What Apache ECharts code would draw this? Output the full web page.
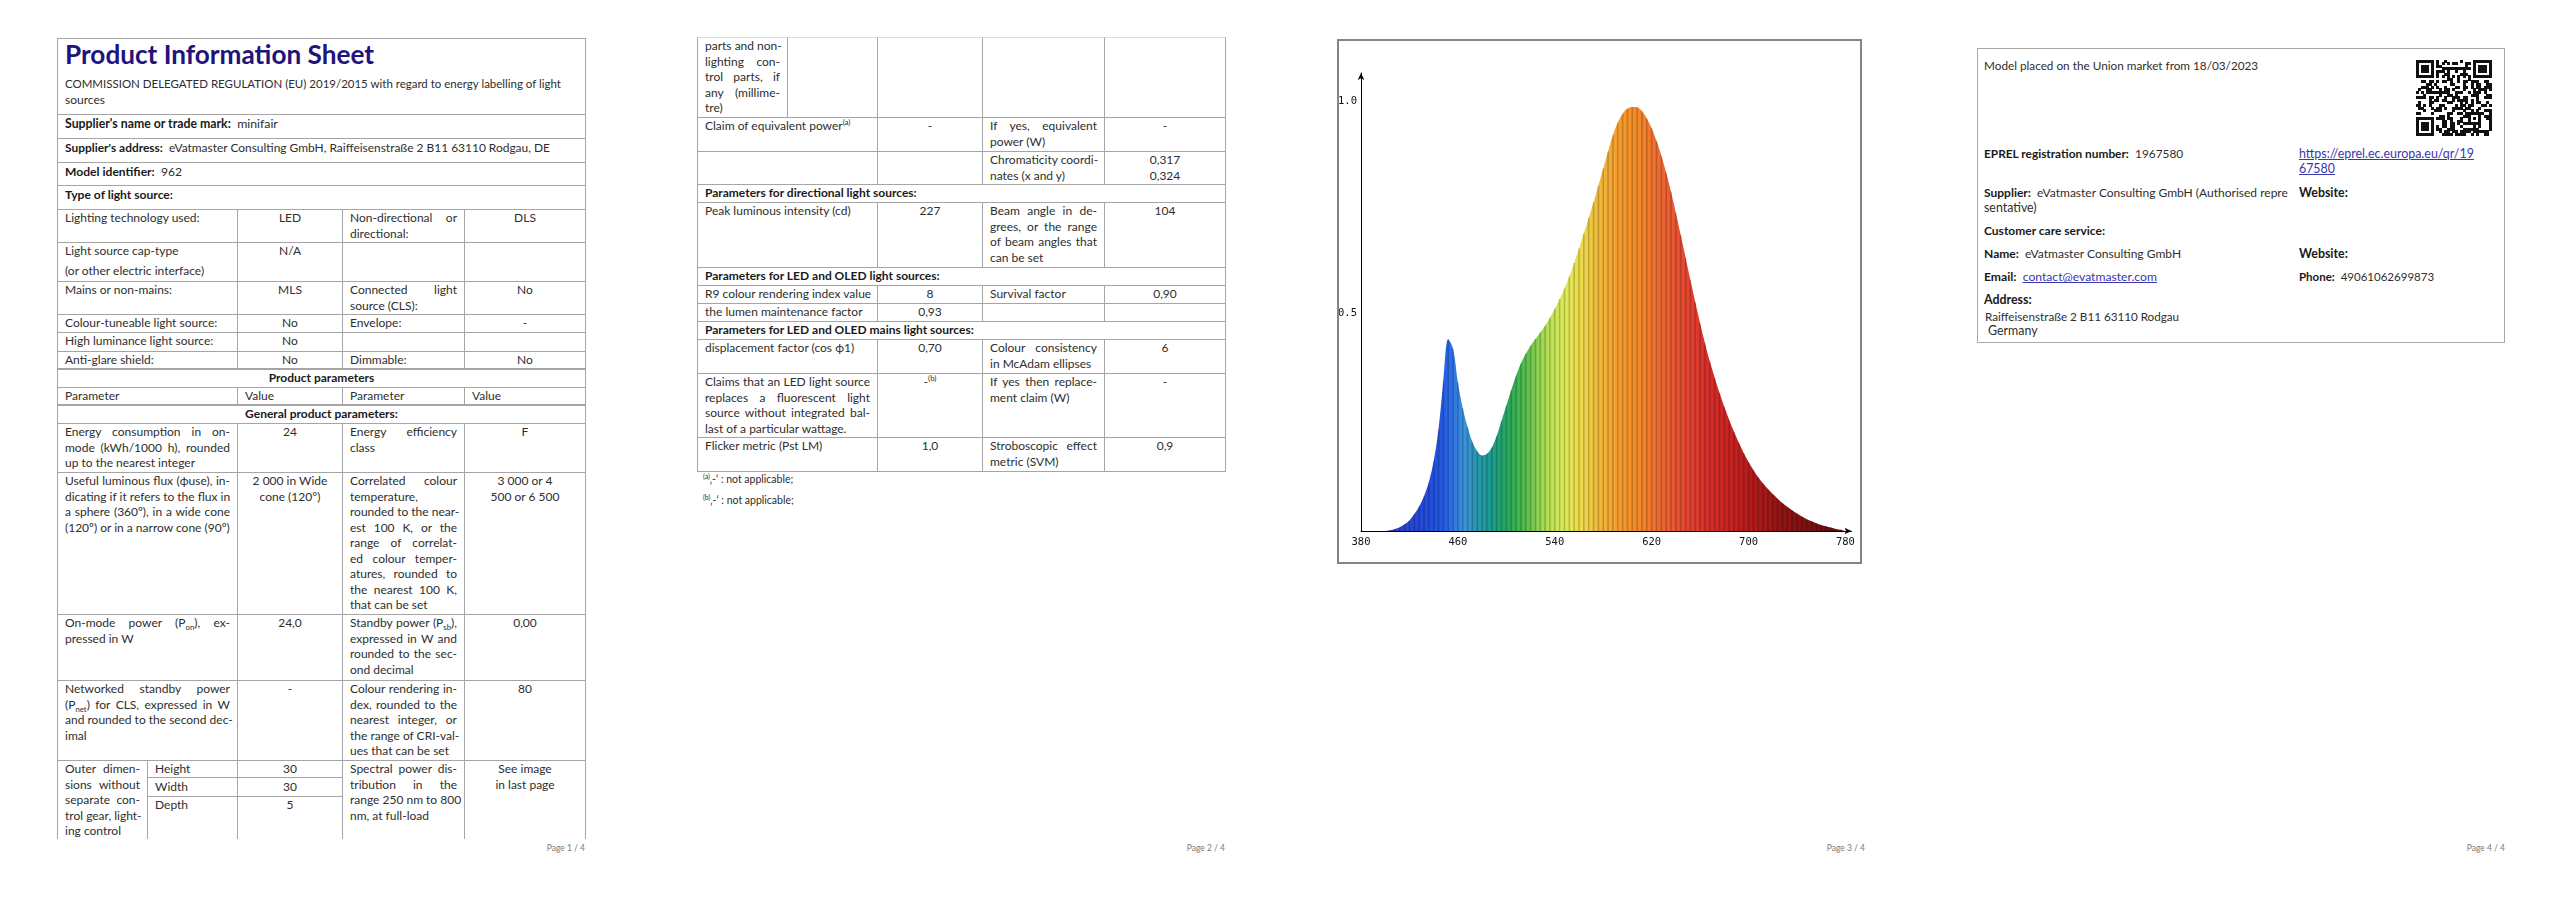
<!DOCTYPE html>
<html><head><meta charset="utf-8">
<script src="https://cdn.jsdelivr.net/npm/echarts@6.0.0/dist/echarts.min.js"></script>
<style>
html,body{margin:0;padding:0;background:#fff;}
#root{position:relative;width:2560px;height:905px;overflow:hidden;font-family:Lato,"Open Sans",sans-serif;color:#2e2e2e;font-size:12px;}
.c{position:absolute;box-sizing:border-box;border:1px solid #a5a5a5;padding:0 7px;line-height:15.5px;overflow:hidden;white-space:nowrap;}
.j{text-align:justify;text-align-last:justify;}
.ctr{text-align:center;}
b{font-weight:700;color:#1a1a1a;}
.foot{position:absolute;font-size:8.5px;color:#7a7a7a;width:200px;text-align:right;line-height:12px;}
.ln{position:absolute;background:#a5a5a5;}
.t{position:absolute;line-height:16px;white-space:nowrap;font-size:12.4px;}
.fit{display:inline-block;white-space:nowrap;}
a{color:#3a36b0;text-decoration:underline;}
sub,sup{font-size:65%;line-height:0;}
#chart{position:absolute;left:1337px;top:39px;width:525px;height:525px;}
#frame{position:absolute;left:1337px;top:39px;width:525px;height:525px;box-sizing:border-box;border:2px solid #858585;pointer-events:none;}
</style></head>
<body><div id="root"><div id="chart"></div><div id="frame"></div></div>
<script>
// ---------------- chart data ----------------
const wavelengths = [380,384,388,392,396,400,404,408,412,416,420,424,428,432,436,440,444,448,452,456,460,464,468,472,476,480,484,488,492,496,500,504,508,512,516,520,524,528,532,536,540,544,548,552,556,560,564,568,572,576,580,584,588,592,596,600,604,608,612,616,620,624,628,632,636,640,644,648,652,656,660,664,668,672,676,680,684,688,692,696,700,704,708,712,716,720,724,728,732,736,740,744,748,752,756,760,764,768,772,776,780];
const relativePower = [0,0,0,0,0,0,0.002,0.005,0.009,0.016,0.025,0.04,0.058,0.082,0.115,0.165,0.24,0.355,0.452,0.43,0.35,0.29,0.245,0.21,0.188,0.178,0.182,0.197,0.224,0.26,0.296,0.332,0.366,0.395,0.418,0.437,0.453,0.468,0.484,0.503,0.524,0.547,0.572,0.6,0.632,0.666,0.702,0.738,0.775,0.815,0.855,0.895,0.933,0.963,0.984,0.996,1.0,0.999,0.99,0.973,0.95,0.92,0.885,0.845,0.8,0.75,0.698,0.645,0.592,0.54,0.49,0.443,0.4,0.362,0.326,0.293,0.262,0.234,0.208,0.184,0.163,0.144,0.127,0.112,0.099,0.087,0.076,0.066,0.057,0.049,0.041,0.034,0.028,0.023,0.018,0.014,0.011,0.008,0.005,0.003,0.001];
const xTickLabels = [380,460,540,620,700,780];
const yTickValues = [0.5,1.0];
const yTickLabels = ['0.5','1.0'];
const spectrumWl = [380,410,430,445,455,465,475,485,495,505,515,525,535,545,555,565,575,590,605,620,635,650,665,685,705,730,760,780];
const spectrumColor = ['#3a2c9c','#2f40c8','#2548da','#2156e2','#2d70e6','#3c92dc','#2a98b2','#1f9a96','#22a274','#30ac55','#52bc4c','#88d050','#b8e050','#d6ea5a','#e8e450','#eed448','#f0bc3c','#f4a230','#f48e26','#f07630','#ea5c32','#e24630','#d8302a','#c82222','#b01a1a','#8e1414','#6e1010','#5a0c0c'];

// ---------------- document pages ----------------
const root = document.getElementById('root');
function fitEl(el, target) {
  const w = el.getBoundingClientRect().width;
  if (!w) return;
  const fs = parseFloat(getComputedStyle(el).fontSize);
  let nf = fs * target / w;
  nf = Math.max(fs * 0.85, Math.min(fs * 1.18, nf));
  el.style.fontSize = nf.toFixed(2) + 'px';
}
function cell(pg, x0, y0, x1, y1, lines, o) {
  o = o || {};
  const d = document.createElement('div');
  d.className = 'c';
  d.style.left = (pg*640 + x0) + 'px';
  d.style.top = y0 + 'px';
  d.style.width = (x1 - x0 + 1) + 'px';
  d.style.height = (y1 - y0 + 1) + 'px';
  if (o.noBottom) d.style.borderBottom = 'none';
  if (o.topColor) d.style.borderTopColor = o.topColor;
  if (o.pt) d.style.paddingTop = o.pt + 'px';
  lines = Array.isArray(lines) ? lines : [lines];
  lines.forEach((t, i) => {
    const l = document.createElement('div');
    if (o.align === 'center') l.className = 'ctr';
    else if (i < lines.length - 1 && !o.nojust) l.className = 'j';
    if (o.gap && i > 0) l.style.marginTop = o.gap + 'px';
    if (o.bold) { l.style.fontWeight = '700'; l.style.color = '#1a1a1a'; }
    l.innerHTML = o.fit ? '<span class="fit">' + t + '</span>' : t;
    d.appendChild(l);
  });
  root.appendChild(d);
  if (o.fit) fitEl(d.querySelector('.fit'), o.fit);
  return d;
}
function hline(pg, x0, x1, y, h) {
  const d = document.createElement('div'); d.className = 'ln';
  d.style.left = (pg*640 + x0) + 'px'; d.style.width = (x1 - x0 + 1) + 'px';
  d.style.top = y + 'px'; d.style.height = h + 'px';
  root.appendChild(d);
}
function text(x, y, html, target, style) {
  const d = document.createElement('div'); d.className = 't';
  d.style.left = x + 'px'; d.style.top = (y - 8) + 'px';
  if (style) d.style.cssText += style;
  d.innerHTML = html; root.appendChild(d);
  if (target) fitEl(d, target);
  return d;
}
function foot(pg, label) {
  const d = document.createElement('div'); d.className = 'foot';
  d.style.left = (pg*640 + 585 - 200) + 'px'; d.style.top = '842px';
  d.textContent = label; root.appendChild(d);
}
const A = 57, S = 147, B = 237, C = 342, D = 464, E = 585;

// Page 1
const t0 = cell(0, A, 38, E, 114, []);
t0.innerHTML = '<div style="font-size:25px;font-weight:700;color:#22137c;line-height:30px;"><span class="fit" id="ttl">Product Information Sheet</span></div>' +
  '<div style="margin-top:7px;line-height:16px;"><span class="fit" id="sub1">COMMISSION DELEGATED REGULATION (EU) 2019/2015 with regard to energy labelling of light</span></div>' +
  '<div style="line-height:16px;">sources</div>';
fitEl(document.getElementById('ttl'), 309);
fitEl(document.getElementById('sub1'), 496);
cell(0, A, 114, E, 138, "<b>Supplier's name or trade mark:</b>&nbsp; minifair", {pt:1, fit:213});
cell(0, A, 138, E, 162, "<b>Supplier's address:</b>&nbsp; eVatmaster Consulting GmbH, Raiffeisenstraße 2 B11 63110 Rodgau, DE", {pt:1, fit:485});
cell(0, A, 162, E, 185, "<b>Model identifier:</b>&nbsp; 962", {pt:1, fit:117});
cell(0, A, 185, E, 209, "<b>Type of light source:</b>", {pt:1, fit:108});
function row4(pg, y0, y1, a, b, c, d, o) {
  o = o || {};
  cell(pg, A, y0, B, y1, a, o.a);
  cell(pg, B, y0, C, y1, b, Object.assign({align:'center'}, o.b));
  cell(pg, C, y0, D, y1, c, o.c);
  cell(pg, D, y0, E, y1, d, Object.assign({align:'center'}, o.d));
}
row4(0, 209, 242, 'Lighting technology used:', 'LED', ['Non-directional or', 'directional:'], 'DLS');
row4(0, 242, 281, ['Light source cap-type', '(or other electric interface)'], 'N/A', '', '', {a:{gap:4.5, nojust:true}});
row4(0, 281, 314, 'Mains or non-mains:', 'MLS', ['Connected light', 'source (CLS):'], 'No');
row4(0, 314, 332, 'Colour-tuneable light source:', 'No', 'Envelope:', '-');
row4(0, 332, 351, 'High luminance light source:', 'No', '', '');
row4(0, 351, 369, 'Anti-glare shield:', 'No', 'Dimmable:', 'No');
cell(0, A, 369, E, 387, 'Product parameters', {align:'center', bold:true});
row4(0, 387, 405, 'Parameter', 'Value', 'Parameter', 'Value', {b:{align:'left'}, d:{align:'left'}});
cell(0, A, 405, E, 423, 'General product parameters:', {align:'center', bold:true});
row4(0, 423, 472, ['Energy consumption in on-', 'mode (kWh/1000 h), rounded', 'up to the nearest integer'], '24', ['Energy efficiency', 'class'], 'F');
row4(0, 472, 614, ['Useful luminous flux (ϕuse), in-', 'dicating if it refers to the flux in', 'a sphere (360º), in a wide cone', '(120º) or in a narrow cone (90º)'],
  ['2 000 in Wide', 'cone (120°)'],
  ['Correlated colour', 'temperature,', 'rounded to the near-', 'est 100 K, or the', 'range of correlat-', 'ed colour temper-', 'atures, rounded to', 'the nearest 100 K,', 'that can be set'],
  ['3 000 or 4', '500 or 6 500']);
row4(0, 614, 680, ['On-mode power (P<sub>on</sub>), ex-', 'pressed in W'], '24,0', ['Standby power (P<sub>sb</sub>),', 'expressed in W and', 'rounded to the sec-', 'ond decimal'], '0,00');
row4(0, 680, 760, ['Networked standby power', '(P<sub>net</sub>) for CLS, expressed in W', 'and rounded to the second dec-', 'imal'], '-', ['Colour rendering in-', 'dex, rounded to the', 'nearest integer, or', 'the range of CRI-val-', 'ues that can be set'], '80');
cell(0, A, 760, S, 838, ['Outer dimen-', 'sions without', 'separate con-', 'trol gear, light-', 'ing control'], {noBottom:true});
cell(0, S, 760, B, 777, 'Height'); cell(0, B, 760, C, 777, '30', {align:'center'});
cell(0, S, 777, B, 796, 'Width', {pt:1}); cell(0, B, 777, C, 796, '30', {align:'center', pt:1});
cell(0, S, 796, B, 838, 'Depth', {noBottom:true}); cell(0, B, 796, C, 838, '5', {align:'center', noBottom:true});
cell(0, C, 760, D, 838, ['Spectral power dis-', 'tribution in the', 'range 250 nm to 800', 'nm, at full-load'], {noBottom:true});
cell(0, D, 760, E, 838, ['See image', 'in last page'], {align:'center', noBottom:true});
hline(0, A, E, 368, 2); hline(0, A, E, 404, 2);
foot(0, 'Page 1 / 4');

// Page 2
cell(1, A, 37, S, 117, ['parts and non-', 'lighting con-', 'trol parts, if', 'any (millime-', 'tre)'], {topColor:'#dcdcdc'});
cell(1, S, 37, B, 117, '', {topColor:'#dcdcdc'});
cell(1, B, 37, C, 117, '', {topColor:'#dcdcdc'});
cell(1, C, 37, D, 117, '', {topColor:'#dcdcdc'});
cell(1, D, 37, E, 117, '', {topColor:'#dcdcdc'});
row4(1, 117, 151, 'Claim of equivalent power<sup>(a)</sup>', '-', ['If yes, equivalent', 'power (W)'], '-');
row4(1, 151, 184, '', '', ['Chromaticity coordi-', 'nates (x and y)'], ['0,317', '0,324']);
cell(1, A, 184, E, 202, 'Parameters for directional light sources:', {bold:true});
row4(1, 202, 267, 'Peak luminous intensity (cd)', '227', ['Beam angle in de-', 'grees, or the range', 'of beam angles that', 'can be set'], '104');
cell(1, A, 267, E, 285, 'Parameters for LED and OLED light sources:', {bold:true});
row4(1, 285, 303, 'R9 colour rendering index value', '8', 'Survival factor', '0,90');
row4(1, 303, 321, 'the lumen maintenance factor', '0,93', '', '');
cell(1, A, 321, E, 339, 'Parameters for LED and OLED mains light sources:', {bold:true});
row4(1, 339, 373, 'displacement factor (cos ϕ1)', '0,70', ['Colour consistency', 'in McAdam ellipses'], '6');
row4(1, 373, 437, ['Claims that an LED light source', 'replaces a fluorescent light', 'source without integrated bal-', 'last of a particular wattage.'], '-<sup>(b)</sup>', ['If yes then replace-', 'ment claim (W)'], '-');
row4(1, 437, 471, 'Flicker metric (Pst LM)', '1,0', ['Stroboscopic effect', 'metric (SVM)'], '0,9');
text(703, 479, '<sup>(a)</sup>‚-‘ : not applicable;', 0, 'font-size:10.5px;');
text(703, 500, '<sup>(b)</sup>‚-‘ : not applicable;', 0, 'font-size:10.5px;');
foot(1, 'Page 2 / 4');

// Page 3 footer
foot(2, 'Page 3 / 4');

// Page 4
const box = document.createElement('div');
box.style.cssText = 'position:absolute;left:1977px;top:48px;width:528px;height:295px;box-sizing:border-box;border:1.5px solid #a8a8a8;';
root.appendChild(box);
const L4 = 1984, R4 = 2299;
text(L4, 66, 'Model placed on the Union market from 18/03/2023', 274);
text(L4, 154, '<b>EPREL registration number:</b>&nbsp; 1967580', 199);
text(R4, 154, '<a>https://eprel.ec.europa.eu/qr/19</a>', 175);
text(R4, 169, '<a>67580</a>');
text(L4, 193, '<b>Supplier:</b>&nbsp; eVatmaster Consulting GmbH (Authorised repre', 304);
text(L4, 208, 'sentative)');
text(R4, 193, '<b>Website:</b>');
text(L4, 231, '<b>Customer care service:</b>', 121);
text(L4, 254, '<b>Name:</b>&nbsp; eVatmaster Consulting GmbH', 197);
text(R4, 254, '<b>Website:</b>');
text(L4, 277, '<b>Email:</b>&nbsp; <a>contact@evatmaster.com</a>', 173);
text(R4, 277, '<b>Phone:</b>&nbsp; 49061062699873', 135);
text(L4, 300, '<b>Address:</b>');
text(L4 + 1, 316, 'Raiffeisenstraße 2 B11 63110 Rodgau', 194);
text(L4 + 4, 331, 'Germany');
// QR-like code
(function () {
  const N = 29, size = 76;
  const cv = document.createElement('canvas');
  cv.width = size; cv.height = size;
  cv.style.cssText = 'position:absolute;left:2416px;top:60px;';
  root.appendChild(cv);
  const g = cv.getContext('2d');
  const m = [];
  let s = 97531;
  function bit() { s = (s * 1103515245 + 12345) & 0x7fffffff; return (s >> 16) & 1; }
  for (let r = 0; r < N; r++) { m.push([]); for (let c = 0; c < N; c++) m[r].push(bit()); }
  function finder(r0, c0) {
    for (let r = -1; r < 8; r++) for (let c = -1; c < 8; c++) {
      const rr = r0 + r, cc = c0 + c;
      if (rr < 0 || cc < 0 || rr >= N || cc >= N) continue;
      const inR = r >= 0 && r <= 6 && c >= 0 && c <= 6;
      const ring = inR && (r === 0 || r === 6 || c === 0 || c === 6);
      const core = r >= 2 && r <= 4 && c >= 2 && c <= 4;
      m[rr][cc] = (ring || core) ? 1 : 0;
    }
  }
  finder(0, 0); finder(0, N - 7); finder(N - 7, 0);
  for (let i = 8; i < N - 8; i++) { m[6][i] = (i + 1) % 2; m[i][6] = (i + 1) % 2; }
  for (let r = -2; r <= 2; r++) for (let c = -2; c <= 2; c++) {
    const mx = Math.max(Math.abs(r), Math.abs(c));
    m[22 + r][22 + c] = (mx === 2 || mx === 0) ? 1 : 0;
  }
  g.fillStyle = '#111';
  const u = size / N;
  for (let r = 0; r < N; r++) for (let c = 0; c < N; c++) if (m[r][c])
    g.fillRect(Math.floor(c * u), Math.floor(r * u), Math.ceil(u), Math.ceil(u));
})();
foot(3, 'Page 4 / 4');

// ---------------- spectrum chart ----------------
const chart = echarts.init(document.getElementById('chart'), null, {renderer: 'canvas'});
const seriesData = wavelengths.map((w, i) => [w, relativePower[i]]);
const span = wavelengths[wavelengths.length - 1] - wavelengths[0];
const stops = spectrumWl.map((w, i) => ({offset: (w - wavelengths[0]) / span, color: spectrumColor[i]}));
chart.setOption({
  animation: false,
  backgroundColor: '#fff',
  grid: {left: 24, right: 10.5, top: 34, bottom: 33, containLabel: false, outerBoundsMode: 'none'},
  xAxis: {
    type: 'value', min: 380, max: 785, interval: 20,
    axisLine: {show: true, lineStyle: {color: '#000', width: 1}, symbol: ['none', 'arrow'], symbolSize: [5, 7]},
    axisTick: {show: false}, splitLine: {show: false},
    axisLabel: {
      margin: 6, fontFamily: 'DejaVu Sans Mono', fontSize: 10.5, color: '#111',
      formatter: v => xTickLabels.indexOf(v) >= 0 ? String(v) : ''
    }
  },
  yAxis: {
    type: 'value', min: 0, max: 1.08, interval: 0.5,
    axisLine: {show: true, lineStyle: {color: '#000', width: 1}, symbol: ['none', 'arrow'], symbolSize: [5, 7]},
    axisTick: {show: false}, splitLine: {show: false},
    axisLabel: {
      margin: 4, fontFamily: 'DejaVu Sans Mono', fontSize: 10.5, color: '#111', verticalAlign: 'bottom',
      formatter: v => { const k = yTickValues.findIndex(t => Math.abs(t - v) < 1e-9); return k >= 0 ? yTickLabels[k] : ''; }
    }
  },
  series: [
    {
      type: 'line', data: seriesData, smooth: 0.35, symbol: 'none', z: 2,
      lineStyle: {width: 0},
      areaStyle: {opacity: 1, color: new echarts.graphic.LinearGradient(0, 0, 1, 0, stops)}
    },
    {
      type: 'bar', data: seriesData, barWidth: 1.6, z: 3,
      itemStyle: {color: 'rgba(0,0,0,0.2)'}
    }
  ]
});
</script>
</body></html>
